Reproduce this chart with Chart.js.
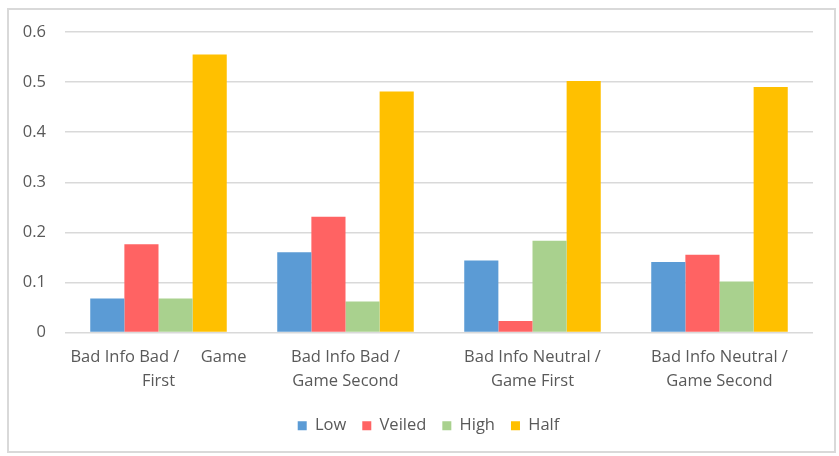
<!DOCTYPE html>
<html>
<head>
<meta charset="utf-8">
<script src="https://cdn.jsdelivr.net/npm/chart.js@4"></script>
<style>
  html, body { margin: 0; padding: 0; background: #ffffff; }
  #wrap { position: relative; width: 839px; height: 456px; }
</style>
</head>
<body>
<div id="wrap"><canvas id="c" width="839" height="456"></canvas></div>
<script>
// Group labels (multi-line, as wrapped under the axis)
const categories = [
  ["Bad Info Bad /     Game", "First"],
  ["Bad Info Bad /", "Game Second"],
  ["Bad Info Neutral /", "Game First"],
  ["Bad Info Neutral /", "Game Second"]
];
const seriesNames = ["Low", "Veiled", "High", "Half"];
const lowValues    = [0.068, 0.160, 0.144, 0.141];
const veiledValues = [0.176, 0.231, 0.023, 0.155];
const highValues   = [0.068, 0.062, 0.183, 0.102];
const halfValues   = [0.555, 0.481, 0.502, 0.490];
const yTicks = [0, 0.1, 0.2, 0.3, 0.4, 0.5, 0.6];
const seriesColors = ["#5b9bd5", "#ff6363", "#a9d18e", "#ffc000"];

const textGray = "#595959";
const gridGray = "#d9d9d9";
const fontFamily = "'Open Sans', sans-serif";

// Light frame around the whole chart, and legend centred under the full frame
const framePlugin = {
  id: "frame",
  afterLayout(chart) {
    const lg = chart.legend;
    if (lg) { lg.left += 22; lg.right += 22; }
  },
  beforeDraw(chart) {
    const ctx = chart.ctx;
    ctx.save();
    ctx.fillStyle = "#ffffff";
    ctx.fillRect(0, 0, chart.width, chart.height);
    ctx.strokeStyle = gridGray;
    ctx.lineWidth = 2;
    ctx.strokeRect(8, 9, 827, 443);
    ctx.restore();
  }
};

const allValues = [lowValues, veiledValues, highValues, halfValues];

new Chart(document.getElementById("c"), {
  type: "bar",
  data: {
    labels: categories,
    datasets: seriesNames.map((name, i) => ({
      label: name,
      data: allValues[i],
      backgroundColor: seriesColors[i],
      borderWidth: 0,
      barPercentage: 1.0,
      categoryPercentage: 0.73
    }))
  },
  options: {
    responsive: false,
    animation: false,
    devicePixelRatio: 1,
    layout: { padding: { left: 0, right: 26, top: 32, bottom: 12 } },
    plugins: {
      legend: {
        position: "bottom",
        labels: {
          boxWidth: 9,
          boxHeight: 9,
          padding: 16,
          color: textGray,
          font: { family: fontFamily, size: 16.5 }
        }
      },
      tooltip: { enabled: false }
    },
    scales: {
      x: {
        grid: { display: false, drawTicks: false },
        border: { display: false },
        ticks: {
          color: textGray,
          padding: 12,
          maxRotation: 0,
          autoSkip: false,
          font: { family: fontFamily, size: 16.5, lineHeight: 1.5 }
        },
        afterFit(scale) { scale.height = 69; }
      },
      y: {
        min: 0,
        max: 0.6,
        afterBuildTicks(scale) { scale.ticks = yTicks.map(v => ({ value: v })); },
        afterFit(scale) { scale.width = 65; },
        grid: { color: gridGray, lineWidth: 1.5, drawTicks: false },
        border: { display: false },
        ticks: {
          color: textGray,
          padding: 19,
          font: { family: fontFamily, size: 16.5 },
          callback: v => String(Math.round(v * 10) / 10)
        }
      }
    }
  },
  plugins: [framePlugin]
});
</script>
</body>
</html>
